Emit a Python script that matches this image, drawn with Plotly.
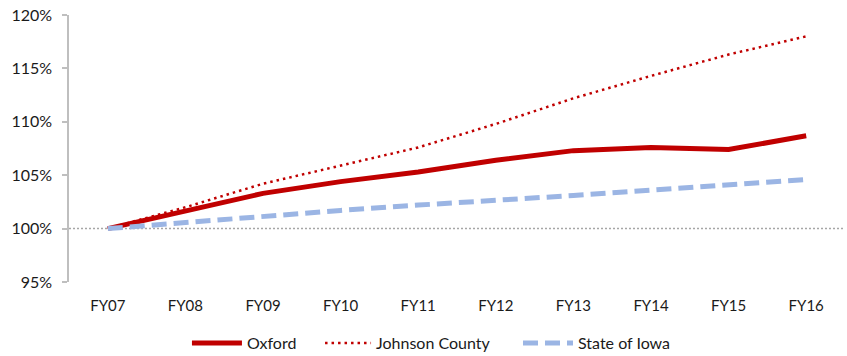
import plotly.graph_objects as go

years = ["FY07", "FY08", "FY09", "FY10", "FY11", "FY12", "FY13", "FY14", "FY15", "FY16"]
oxford = [100.0, 101.6, 103.3, 104.4, 105.3, 106.4, 107.3, 107.6, 107.4, 108.7]
johnson_county = [100.0, 102.0, 104.2, 105.9, 107.6, 109.8, 112.2, 114.3, 116.3, 118.0]
state_of_iowa = [100.0, 100.6, 101.1, 101.7, 102.2, 102.6, 103.1, 103.6, 104.1, 104.6]
baseline = 100
y_ticks = [95, 100, 105, 110, 115, 120]

FONT = "Lato"
TXT = "#1A1A1A"

fig = go.Figure()
fig.add_trace(go.Scatter(x=years, y=oxford, name="Oxford", mode="lines", legend="legend",
                         line=dict(color="#C00000", width=5)))
fig.add_trace(go.Scatter(x=years, y=johnson_county, name="Johnson County", mode="lines",
                         legend="legend2",
                         line=dict(color="#C00000", width=2.5, dash="2.5px,4px")))
fig.add_trace(go.Scatter(x=years, y=state_of_iowa, name="State of Iowa", mode="lines",
                         legend="legend3",
                         line=dict(color="#9BB5E4", width=5, dash="15px,7px")))

fig.add_shape(type="line", xref="paper", yref="y", x0=0, x1=1, y0=baseline, y1=baseline,
              line=dict(color="#A6A6A6", width=1.5, dash="2px,2px"), layer="below")

leg_common = dict(orientation="h", xanchor="left", y=-0.2285, yanchor="middle",
                  bgcolor="rgba(0,0,0,0)", font=dict(family=FONT, size=16, color=TXT))

fig.update_layout(
    width=847, height=356,
    margin=dict(l=69, r=2, t=15, b=74, autoexpand=False),
    paper_bgcolor="white", plot_bgcolor="white",
    font=dict(family=FONT, size=15, color=TXT),
    showlegend=True,
    legend=dict(x=0.152, itemwidth=50, **leg_common),
    legend2=dict(x=0.3235, itemwidth=46, **leg_common),
    legend3=dict(x=0.5786, itemwidth=50, **leg_common),
    xaxis=dict(type="category", range=[-0.5, len(years) - 0.5], showline=False,
               showgrid=False, zeroline=False, ticks="outside", ticklen=10,
               tickcolor="rgba(0,0,0,0)", automargin=False,
               tickfont=dict(family=FONT, size=15, color=TXT)),
    yaxis=dict(range=[95, 120], tickvals=y_ticks, ticktext=[f"{v}%" for v in y_ticks],
               showgrid=False, zeroline=False, showline=True, linecolor="#BFBFBF",
               linewidth=1.5, ticks="outside", ticklen=5, tickcolor="#BFBFBF",
               tickwidth=1.5, automargin=False, ticklabelstandoff=7,
               ticklabeloverflow="allow",
               tickfont=dict(family=FONT, size=16, color=TXT)),
)

fig.write_html("out.html", config={"displayModeBar": False},
               post_script="document.body.style.margin='0';document.body.style.overflow='hidden';")
